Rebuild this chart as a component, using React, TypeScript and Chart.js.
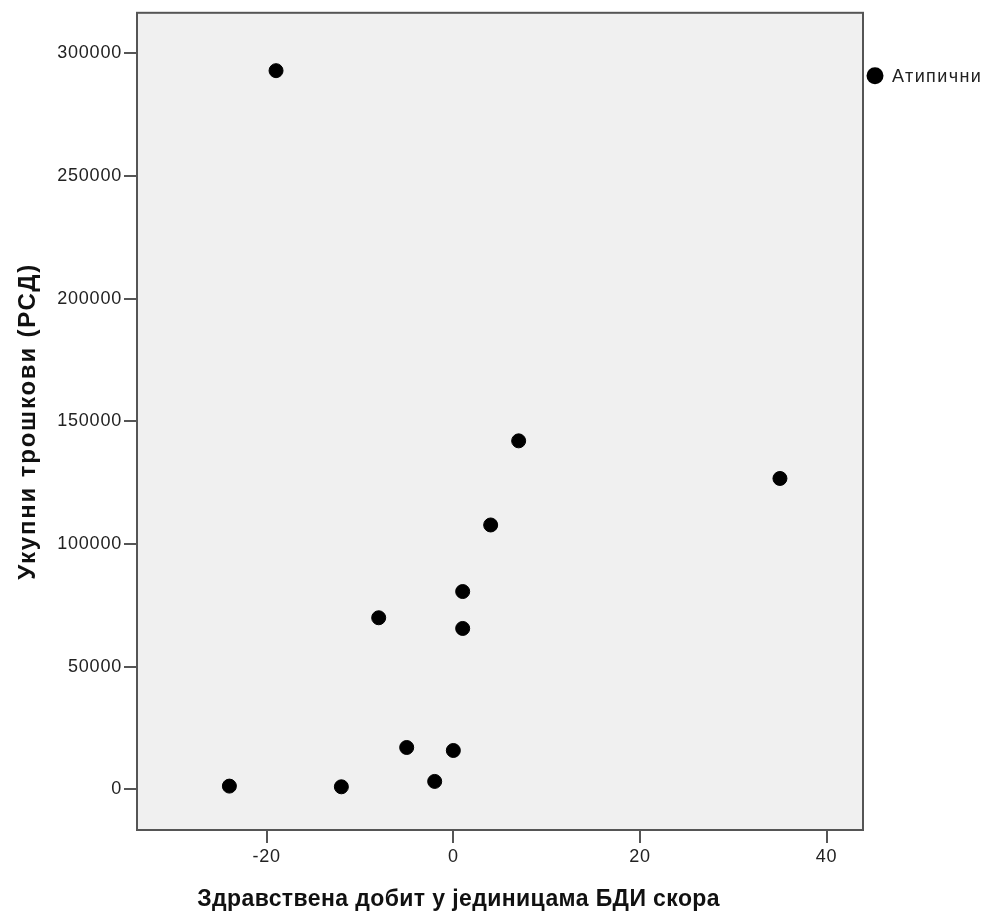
import React, { useEffect, useRef } from "react";
import { Chart, registerables } from "chart.js";

Chart.register(...registerables);

const seriesLabel = "Атипични";
const xValues = [-19, 35, 7, 4, 1, 1, -8, -5, 0, -2, -12, -24];
const yValues = [292960, 126740, 142070, 107780, 80650, 65600, 69960, 17080, 15860, 3250, 1060, 1340];
const xTicks = [-20, 0, 20, 40];
const yTicks = [0, 50000, 100000, 150000, 200000, 250000, 300000];
const xTitle = "Здравствена добит у јединицама БДИ скора";
const yTitle = "Укупни трошкови (РСД)";

const FONT = "'Liberation Sans', Arial, sans-serif";

const decorPlugin = {
  id: "decor",
  beforeDraw(chart: any) {
    (chart.ctx as any).letterSpacing = "0.8px";
  },
  beforeDatasetsDraw(chart: any) {
    const { ctx, chartArea } = chart;
    ctx.save();
    ctx.fillStyle = "#f0f0f0";
    ctx.fillRect(chartArea.left, chartArea.top, chartArea.right - chartArea.left, chartArea.bottom - chartArea.top);
    ctx.restore();
  },
  afterDatasetsDraw(chart: any) {
    const { ctx, chartArea } = chart;
    ctx.save();
    ctx.strokeStyle = "#555555";
    ctx.lineWidth = 2;
    ctx.strokeRect(chartArea.left, chartArea.top, chartArea.right - chartArea.left, chartArea.bottom - chartArea.top);
    // axis titles
    ctx.fillStyle = "#111111";
    ctx.textAlign = "center";
    ctx.textBaseline = "middle";
    const w = chartArea.right - chartArea.left;
    ctx.font = "bold 23px " + FONT;
    ctx.letterSpacing = "0.4px";
    ctx.fillText(xTitle, chartArea.left + w * 0.443, chartArea.bottom + 70);
    ctx.translate(28, (chartArea.top + chartArea.bottom) / 2);
    ctx.rotate(-Math.PI / 2);
    ctx.font = "bold 24px " + FONT;
    ctx.letterSpacing = "1.8px";
    ctx.fillText(yTitle, 0, 0);
    ctx.restore();
    // legend
    ctx.save();
    const ds = chart.data.datasets[0];
    ctx.fillStyle = "#000000";
    ctx.beginPath();
    ctx.arc(chartArea.right + 12, chartArea.top + 63, 8.5, 0, Math.PI * 2);
    ctx.fill();
    ctx.fillStyle = "#222222";
    ctx.font = "18px " + FONT;
    ctx.letterSpacing = "1.4px";
    ctx.textAlign = "left";
    ctx.textBaseline = "middle";
    ctx.fillText(ds.label, chartArea.right + 29, chartArea.top + 64);
    ctx.restore();
  },
};

export default function App() {
  const ref = useRef<HTMLCanvasElement | null>(null);
  useEffect(() => {
    if (!ref.current) return;
    const chart = new Chart(ref.current, {
      type: "scatter",
      data: {
        datasets: [
          {
            label: seriesLabel,
            data: xValues.map((x, i) => ({ x, y: yValues[i] })),
            backgroundColor: "#000000",
            borderColor: "#000000",
            pointRadius: 7,
            pointHoverRadius: 7,
          },
        ],
      },
      options: {
        animation: false,
        responsive: false,
        events: [],
        layout: { padding: { left: 0, top: 11, right: 127, bottom: 0 } },
        plugins: { legend: { display: false }, tooltip: { enabled: false } },
        scales: {
          x: {
            type: "linear",
            min: -33.9,
            max: 43.9,
            afterFit: (s: any) => {
              s.height = 93;
            },
            afterBuildTicks: (s: any) => {
              s.ticks = xTicks.map((v) => ({ value: v }));
            },
            grid: { display: true, drawOnChartArea: false, drawTicks: true, tickLength: 13, color: "#555555", lineWidth: 2 },
            border: { display: false },
            ticks: { color: "#222222", font: { family: FONT, size: 18 }, padding: 3 },
          },
          y: {
            type: "linear",
            min: -16550,
            max: 316550,
            afterFit: (s: any) => {
              s.width = 137;
            },
            afterBuildTicks: (s: any) => {
              s.ticks = yTicks.map((v) => ({ value: v }));
            },
            grid: { display: true, drawOnChartArea: false, drawTicks: true, tickLength: 13, color: "#555555", lineWidth: 2 },
            border: { display: false },
            ticks: { color: "#222222", font: { family: FONT, size: 18 }, padding: 2, callback: (v: any) => String(v) },
          },
        },
      },
      plugins: [decorPlugin],
    });
    return () => chart.destroy();
  }, []);
  return (
    <div style={{ position: "absolute", left: 0, top: 0, width: 990, height: 923, background: "#ffffff" }}>
      <canvas ref={ref} width={990} height={923} style={{ width: 990, height: 923, display: "block" }} />
    </div>
  );
}
